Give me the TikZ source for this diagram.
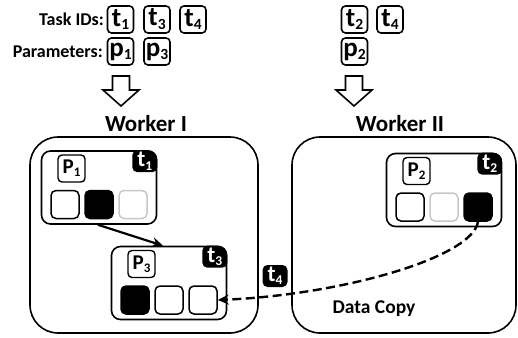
\documentclass[tikz,border=0pt]{standalone}
\usepackage{fontspec}
\setmainfont{Carlito}
\usetikzlibrary{arrows.meta,calc}
\newcommand{\idt}[2]{{\fontsize{27}{27}\selectfont\bfseries #1\raisebox{-0.3ex}{\fontsize{15.5}{15.5}\selectfont #2}}}
\newcommand{\pt}[2]{{\fontsize{21}{21}\selectfont\bfseries #1\raisebox{-0.3ex}{\fontsize{13}{13}\selectfont #2}}}
\newcommand{\tg}[2]{{\fontsize{23}{23}\selectfont\bfseries #1\raisebox{-0.3ex}{\fontsize{13.5}{13.5}\selectfont #2}}}
\begin{document}
\begin{tikzpicture}[x=1pt,y=-1pt,
  idbox/.style={draw, line width=1.6pt, rounded corners=4pt, minimum width=26pt, minimum height=27pt, inner sep=0pt},
  headtxt/.style={font=\fontsize{18}{18}\selectfont\bfseries, inner sep=0pt},
  workertxt/.style={font=\fontsize{23}{23}\selectfont\bfseries, inner sep=0pt},
  worker/.style={draw, line width=1.6pt, rounded corners=28pt},
  task/.style={draw, line width=1.6pt, rounded corners=9pt, minimum width=115pt, minimum height=73pt, inner sep=0pt},
  cell/.style={draw, line width=1.5pt, rounded corners=5pt, minimum size=28pt, inner sep=0pt},
  plabel/.style={draw, line width=1.4pt, rounded corners=4pt, minimum size=27pt, inner sep=0pt},
  tagbox/.style={fill=black, text=white, rounded corners=5pt, minimum width=25pt, minimum height=22pt, inner sep=0pt},
  hollow/.style={draw, line width=1.6pt, fill=white, line join=miter},
  conn/.style={line width=2.2pt, -{Stealth[length=11pt,width=10pt]}},
  copyconn/.style={line width=2.4pt, dash pattern=on 9pt off 4.5pt, -{Stealth[length=11pt,width=10pt]}}
]
\useasboundingbox (0,0) rectangle (518,337);

% top labels
\node[headtxt, anchor=east] (taskids) at (104,19.5) {Task IDs:};
\node[headtxt, anchor=east] (params) at (103,51.5) {Parameters:};
\node[idbox] (ta1) at (120.5,19.5) {\idt{t}{1}};
\node[idbox] (ta3) at (157,19.5) {\idt{t}{3}};
\node[idbox] (ta4) at (193,19.5) {\idt{t}{4}};
\node[idbox] (pa1) at (120.5,51.5) {\idt{p}{1}};
\node[idbox] (pa3) at (157,51.5) {\idt{p}{3}};
\node[idbox] (tb2) at (354.5,19.5) {\idt{t}{2}};
\node[idbox] (tb4) at (390,19.5) {\idt{t}{4}};
\node[idbox] (pb2) at (354.5,51.5) {\idt{p}{2}};

% hollow arrows
\foreach \cx in {121,354}{
  \draw[hollow] (\cx-8.5,76) -- (\cx+8.5,76) -- (\cx+8.5,90) -- (\cx+18,90) -- (\cx,106) -- (\cx-18,90) -- (\cx-8.5,90) -- cycle;
}

\node[workertxt] (w1lbl) at (146,124) {Worker I};
\node[workertxt] (w2lbl) at (400,124) {Worker II};

% worker boxes
\draw[worker] (30,137) rectangle (258,333);
\draw[worker] (292,137) rectangle (516,333);

% task boxes
\node[task] (k1) at (99,187.5) {};
\node[task] (k3) at (169,283) {};
\node[task] (k2) at (444,190) {};

\foreach \k/\t/\n in {k1/t/1, k3/t/3, k2/t/2}{
  \begin{scope}
    \clip[rounded corners=9pt] (\k.south west) rectangle (\k.north east);
    \node[tagbox, anchor=north east] (tag\n) at ($(\k.north east)+(0.2,-0.2)$) {\tg{\t}{\n}};
  \end{scope}
}

\node[plabel] (lp1) at ($(k1.center)+(-27.5,-19)$) {\pt{P}{1}};
\node[plabel] (lp3) at ($(k3.center)+(-27.5,-19)$) {\pt{P}{3}};
\node[plabel] (lp2) at ($(k2.center)+(-27.5,-19)$) {\pt{P}{2}};

% cells
\node[cell, fill=white] (c11) at ($(k1.center)+(-34,17)$) {};
\node[cell, fill=black] (c12) at ($(k1.center)+(0,17)$) {};
\node[cell, draw=black!22, fill=white] (c13) at ($(k1.center)+(34,17)$) {};
\node[cell, fill=black] (c31) at ($(k3.center)+(-34,17)$) {};
\node[cell, fill=white] (c32) at ($(k3.center)+(0,17)$) {};
\node[cell, fill=white] (c33) at ($(k3.center)+(34,17)$) {};
\node[cell, fill=white] (c21) at ($(k2.center)+(-34,17)$) {};
\node[cell, draw=black!22, fill=white] (c22) at ($(k2.center)+(0,17)$) {};
\node[cell, fill=black] (c23) at ($(k2.center)+(34,17)$) {};

% connectors
\draw[conn] ($(k1.south)+(-1,0)$) -- ($(k3.north)+(-6,0)$);
\draw[copyconn] (c23.south) .. controls (472,258) and (340,295) .. (c33.east);

\node[tagbox] (tagcopy) at (275,276) {\tg{t}{4}};
\node[font=\fontsize{19.5}{19.5}\selectfont\bfseries, inner sep=0pt] (copylbl) at (374,309) {Data Copy};
\end{tikzpicture}
\end{document}
